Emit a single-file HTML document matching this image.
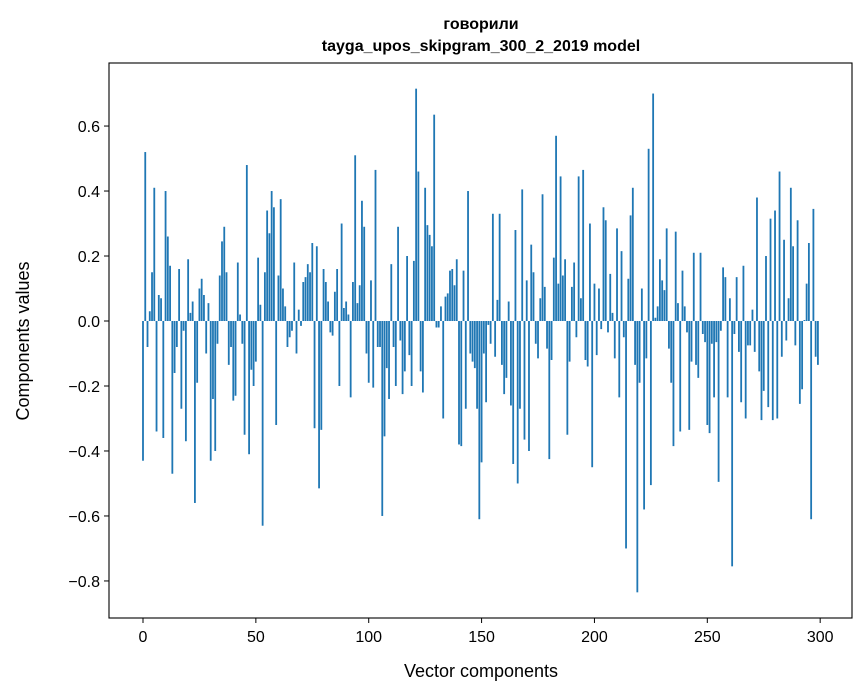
<!DOCTYPE html>
<html><head><meta charset="utf-8"><style>
html,body{margin:0;padding:0;background:#fff;}
svg{display:block;font-family:"Liberation Sans","DejaVu Sans",sans-serif;}
</style></head><body>
<svg id="chart" width="867" height="696" viewBox="0 0 867 696">
<rect x="0" y="0" width="867" height="696" fill="#fff"/>
<text x="481" y="29" text-anchor="middle" font-size="16" font-weight="bold">говорили</text>
<text x="481" y="51" text-anchor="middle" font-size="16" font-weight="bold">tayga_upos_skipgram_300_2_2019 model</text>
<g id="bars"></g>
<g id="axes"></g>
<text x="481" y="677" text-anchor="middle" font-size="18">Vector components</text>
<text x="29" y="341" text-anchor="middle" font-size="18" transform="rotate(-90 29 341)">Components values</text>
</svg>
<script>
const values = [
-0.43,0.52,-0.08,0.03,0.15,0.41,-0.34,0.08,0.07,-0.36,
0.40,0.26,0.17,-0.47,-0.16,-0.08,0.16,-0.27,-0.03,-0.37,
0.19,0.025,0.06,-0.56,-0.19,0.10,0.13,0.08,-0.10,0.055,
-0.43,-0.24,-0.40,-0.07,0.14,0.245,0.29,0.15,-0.135,-0.08,
-0.245,-0.23,0.18,0.02,-0.07,-0.35,0.48,-0.41,-0.15,-0.20,
-0.125,0.195,0.05,-0.63,0.15,0.34,0.27,0.40,0.35,-0.32,
0.14,0.375,0.10,0.045,-0.08,-0.05,-0.03,0.18,-0.10,0.035,
-0.015,0.12,0.135,0.175,0.15,0.24,-0.33,0.23,-0.515,-0.335,
0.16,0.12,0.06,-0.035,-0.045,0.09,0.16,-0.20,0.30,0.04,
0.06,0.02,-0.235,0.12,0.51,0.055,0.11,0.37,0.29,-0.10,
-0.19,0.125,-0.205,0.465,-0.08,-0.08,-0.60,-0.355,-0.145,-0.24,
0.175,-0.08,-0.20,0.29,-0.06,-0.225,-0.155,0.20,-0.105,-0.20,
0.185,0.715,0.46,-0.155,-0.22,0.41,0.295,0.265,0.23,0.635,
-0.02,-0.02,0.045,-0.30,0.075,0.085,0.155,0.16,0.11,0.19,
-0.38,-0.385,0.155,-0.27,0.40,-0.10,-0.125,-0.145,-0.27,-0.61,
-0.435,-0.10,-0.25,-0.012,-0.07,0.33,-0.11,0.065,0.33,-0.135,
-0.225,-0.175,0.06,-0.26,-0.44,0.28,-0.50,-0.27,0.405,-0.365,
0.125,-0.40,0.235,0.15,-0.07,-0.115,0.07,0.39,0.105,-0.085,
-0.425,-0.12,0.195,0.57,0.115,0.445,0.14,0.19,-0.35,-0.125,
0.105,0.18,-0.05,0.445,0.07,0.465,-0.12,-0.14,0.30,-0.45,
0.115,-0.105,0.10,-0.025,0.35,0.31,-0.035,0.145,0.025,-0.115,
0.285,-0.235,0.215,-0.05,-0.70,0.13,0.325,0.41,-0.135,-0.835,
-0.19,0.10,-0.58,-0.115,0.53,-0.505,0.70,0.01,0.045,0.19,
0.125,0.095,0.285,-0.085,-0.19,-0.385,0.275,0.055,-0.34,0.155,
0.045,-0.035,-0.335,-0.125,0.21,-0.135,-0.175,0.21,-0.04,-0.065,
-0.32,-0.345,-0.07,-0.235,-0.065,-0.495,-0.03,0.165,0.135,-0.235,
0.07,-0.755,-0.04,0.135,-0.095,-0.25,0.17,-0.30,-0.075,-0.075,
0.035,-0.095,0.38,-0.155,-0.305,-0.215,0.20,-0.265,0.315,-0.305,
0.34,-0.30,0.46,-0.11,0.25,-0.06,0.07,0.41,0.23,-0.075,
0.31,-0.255,-0.21,0.003,0.115,0.24,-0.61,0.345,-0.11,-0.135
];
const xTicks = [0,50,100,150,200,250,300];
const yTicks = [-0.8,-0.6,-0.4,-0.2,0.0,0.2,0.4,0.6];
const yTickLabels = ["\u22120.8","\u22120.6","\u22120.4","\u22120.2","0.0","0.2","0.4","0.6"];

const L=109,R=852,T=63,B=618;
const xMin=-15.06,xMax=314.1,yMin=-0.914,yMax=0.794;
const xs=v=>L+(v-xMin)/(xMax-xMin)*(R-L);
const ys=v=>B-(v-yMin)/(yMax-yMin)*(B-T);
const NS="http://www.w3.org/2000/svg";
const bars=document.getElementById('bars');
const bw=(xs(1)-xs(0))*0.8;
values.forEach((v,i)=>{
  const r=document.createElementNS(NS,'rect');
  const y0=ys(0),y1=ys(v);
  r.setAttribute('x',xs(i)-bw/2);
  r.setAttribute('y',Math.min(y0,y1));
  r.setAttribute('width',bw);
  r.setAttribute('height',Math.abs(y1-y0));
  r.setAttribute('fill','#1f77b4');
  
  
  bars.appendChild(r);
});
const axes=document.getElementById('axes');
const frame=document.createElementNS(NS,'rect');
frame.setAttribute('x',L);frame.setAttribute('y',T);
frame.setAttribute('width',R-L);frame.setAttribute('height',B-T);
frame.setAttribute('fill','none');frame.setAttribute('stroke','#000');frame.setAttribute('stroke-width','1.1');


axes.appendChild(frame);
xTicks.forEach(t=>{
  const x=xs(t);
  const l=document.createElementNS(NS,'line');
  l.setAttribute('x1',x);l.setAttribute('x2',x);l.setAttribute('y1',B);l.setAttribute('y2',B+5);
  l.setAttribute('stroke','#000');
  
  
  axes.appendChild(l);
  const tx=document.createElementNS(NS,'text');
  tx.setAttribute('x',x);tx.setAttribute('y',B+24);
  tx.setAttribute('text-anchor','middle');tx.setAttribute('font-size','16');
  tx.textContent=t;
  
  
  axes.appendChild(tx);
});
yTicks.forEach((t,i)=>{
  const y=ys(t);
  const l=document.createElementNS(NS,'line');
  l.setAttribute('x1',L-5);l.setAttribute('x2',L);l.setAttribute('y1',y);l.setAttribute('y2',y);
  l.setAttribute('stroke','#000');
  
  
  axes.appendChild(l);
  const tx=document.createElementNS(NS,'text');
  tx.setAttribute('x',L-9);tx.setAttribute('y',y+6);
  tx.setAttribute('text-anchor','end');tx.setAttribute('font-size','16');
  tx.textContent=yTickLabels[i];
  
  
  axes.appendChild(tx);
});
</script>
</body></html>
